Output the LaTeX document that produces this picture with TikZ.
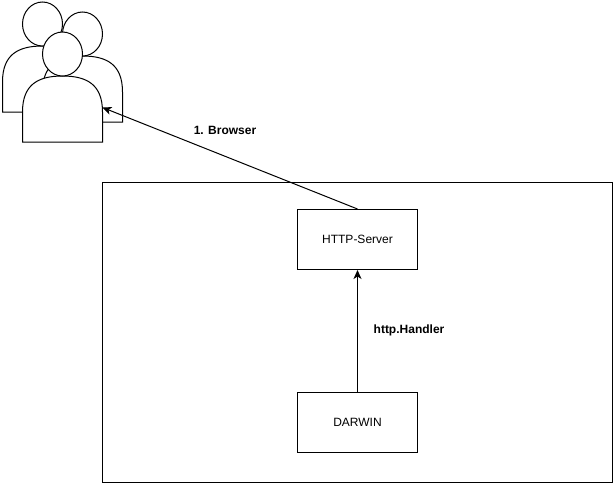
\documentclass[tikz,border=0pt]{standalone}
\usepackage{fontspec}
\setmainfont{Liberation Sans}
\usetikzlibrary{arrows.meta}

\tikzset{
    boxnode/.style={draw, line width=1pt, minimum width=120pt, minimum height=60pt, inner sep=0pt, font=\fontsize{12}{14}\selectfont},
    edgelabel/.style={inner sep=0pt, font=\fontsize{12}{14}\selectfont\bfseries},
    flow/.style={line width=1pt, -{Stealth[length=9pt, width=8pt, inset=2.5pt]}},
    person/.style={draw, fill=white, line width=1pt}
}
\newcommand{\drawperson}[2]{%
    \draw[person] (#1, #2+110) -- (#1, #2+80) .. controls (#1, #2+53) and (#1+15, #2+44) .. (#1+40, #2+44)
        .. controls (#1+65, #2+44) and (#1+80, #2+53) .. (#1+80, #2+80) -- (#1+80, #2+110) -- cycle;
    \draw[person] (#1+40, #2+22) ellipse [x radius=20, y radius=22];
}

\begin{document}
\begin{tikzpicture}[x=1pt, y=-1pt]
    \useasboundingbox (0,0) rectangle (616,485);
    % Users
    \drawperson{2.5}{2}
    \drawperson{42.5}{12}
    \drawperson{22.5}{32}
    \coordinate (users) at (102.5,107.5);
    % Outer frame
    \draw[line width=1pt] (102.5,182.5) rectangle (612.5,482.5);
    % Boxes
    \node[boxnode] (server) at (357.5,239.5) {HTTP-Server};
    \node[boxnode] (darwin) at (357.5,422.5) {DARWIN};
    % Connectors
    \draw[flow] (server.north) -- (users);
    \draw[flow] (darwin.north) -- (server.south);
    \node[edgelabel] (browserlabel) at (225,130.5) {1. Browser};
    \node[edgelabel] (handlerlabel) at (409,330) {http.Handler};
\end{tikzpicture}
\end{document}
